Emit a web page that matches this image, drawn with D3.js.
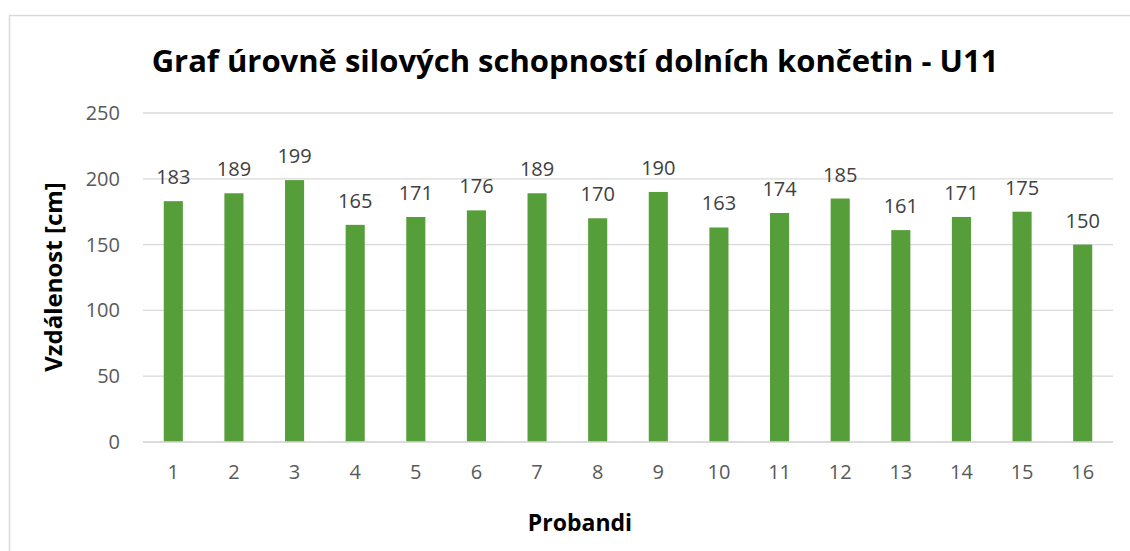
<!DOCTYPE html>
<html>
<head>
<meta charset="utf-8">
<script src="https://d3js.org/d3.v7.min.js"></script>
<style>
  body { margin: 0; background: #fff; }
  text { font-family: "Open Sans", "Noto Sans", sans-serif; }
</style>
</head>
<body>
<div id="chart"></div>
<script>
// data
var probandi = ["1","2","3","4","5","6","7","8","9","10","11","12","13","14","15","16"];
var vzdalenost = [183,189,199,165,171,176,189,170,190,163,174,185,161,171,175,150];
var yTicks = [0,50,100,150,200,250];

var W = 1130, H = 551;
var margin = {top: 113, right: 17, bottom: 109, left: 143},
    width = W - margin.left - margin.right,
    height = H - margin.top - margin.bottom;

var svg = d3.select("#chart").append("svg")
    .attr("width", W)
    .attr("height", H);

// outer chart border
svg.append("rect")
  .attr("x", 9.5).attr("y", 15.5)
  .attr("width", W + 20).attr("height", H + 20)
  .attr("fill", "none")
  .attr("stroke", "#d9d9d9")
  .attr("stroke-width", 1.5);

var g = svg.append("g")
  .attr("transform", "translate(" + margin.left + "," + margin.top + ")");

// excel style: gap split in half at the edges
var x = d3.scaleBand()
  .domain(probandi)
  .range([0, width])
  .paddingInner(0.685)
  .paddingOuter(0.3425);

var y = d3.scaleLinear()
  .domain([0, 250])
  .range([height, 0]);

// gridlines
g.selectAll(".grid")
  .data(yTicks)
  .enter().append("line")
    .attr("x1", 0).attr("x2", width)
    .attr("y1", function(d) { return y(d); })
    .attr("y2", function(d) { return y(d); })
    .attr("stroke", "#d9d9d9")
    .attr("stroke-width", 1.3);

// y axis labels
var yAxis = g.append("g")
  .call(d3.axisLeft(y).tickValues(yTicks).tickSize(0).tickPadding(23));
yAxis.select(".domain").remove();
yAxis.selectAll("text")
  .attr("fill", "#595959")
  .style("font-size", "20px")
  .style("font-family", "'Open Sans', sans-serif");

// bars
g.selectAll(".bar")
  .data(vzdalenost)
  .enter().append("rect")
    .attr("x", function(d, i) { return x(probandi[i]); })
    .attr("y", function(d) { return y(d); })
    .attr("width", x.bandwidth())
    .attr("height", function(d) { return height - y(d); })
    .attr("fill", "#559e3a");

// value labels
g.selectAll(".lbl")
  .data(vzdalenost)
  .enter().append("text")
    .attr("x", function(d, i) { return x(probandi[i]) + x.bandwidth() / 2; })
    .attr("y", function(d) { return y(d) - 17; })
    .attr("text-anchor", "middle")
    .attr("fill", "#404040")
    .style("font-size", "20px")
    .text(function(d) { return d; });

// x axis line and labels
g.append("line")
  .attr("x1", 0).attr("x2", width)
  .attr("y1", height).attr("y2", height)
  .attr("stroke", "#d9d9d9")
  .attr("stroke-width", 1.5);

var xAxis = g.append("g")
  .attr("transform", "translate(0," + height + ")")
  .call(d3.axisBottom(x).tickSize(0).tickPadding(23));
xAxis.select(".domain").remove();
xAxis.selectAll("text")
  .attr("fill", "#595959")
  .style("font-size", "20px")
  .style("font-family", "'Open Sans', sans-serif");

// titles
svg.append("text")
  .attr("x", 575).attr("y", 72)
  .attr("text-anchor", "middle")
  .attr("fill", "#000")
  .style("font-size", "31px")
  .style("font-weight", "bold")
  .text("Graf úrovně silových schopností dolních končetin - U11");

svg.append("text")
  .attr("x", 580).attr("y", 531)
  .attr("text-anchor", "middle")
  .attr("fill", "#000")
  .style("font-size", "23px")
  .style("font-weight", "bold")
  .text("Probandi");

svg.append("text")
  .attr("transform", "translate(62,277) rotate(-90)")
  .attr("text-anchor", "middle")
  .attr("fill", "#000")
  .style("font-size", "24px")
  .style("font-weight", "bold")
  .text("Vzdálenost [cm]");
</script>
</body>
</html>
